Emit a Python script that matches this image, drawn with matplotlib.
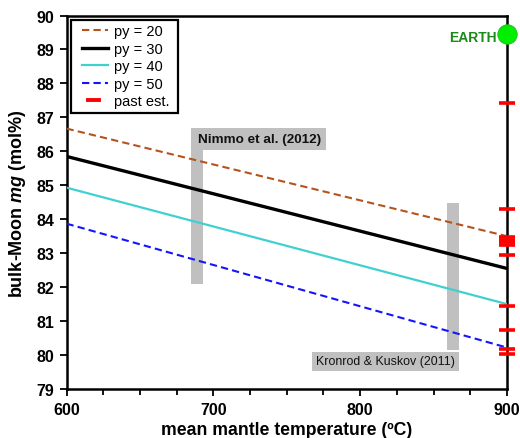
import matplotlib
matplotlib.use("Agg")
import matplotlib.pyplot as plt
from matplotlib.patches import Rectangle
from matplotlib.lines import Line2D
from matplotlib.legend_handler import HandlerLine2D
from matplotlib.ticker import MultipleLocator

plt.rcParams['font.family'] = ['Liberation Sans', 'DejaVu Sans']
plt.rcParams['mathtext.fontset'] = 'custom'
plt.rcParams['mathtext.rm'] = 'Liberation Sans:bold'
plt.rcParams['mathtext.bf'] = 'Liberation Sans:bold'
plt.rcParams['mathtext.it'] = 'Liberation Sans:bold:italic'
plt.rcParams['mathtext.bfit'] = 'Liberation Sans:bold:italic'

# ---- data ----
temperature = [600, 900]
py20 = [86.67, 83.50]
py30 = [85.85, 82.55]
py40 = [84.93, 81.50]
py50 = [83.87, 80.22]
series_labels = ['py = 20', 'py = 30', 'py = 40', 'py = 50']

past_est_x = 900
past_est = [87.42, 84.31, 83.47, 83.40, 83.32, 83.24, 82.96, 81.44, 80.75, 80.17, 80.04]

earth_x = 900
earth_mg = 89.46

nimmo_T = [685, 693]
nimmo_mg = [82.1, 86.68]
kronrod_T = [859, 867]
kronrod_mg = [80.16, 84.49]

xticks = [600, 700, 800, 900]
yticks = list(range(79, 91))


class PartLineHandler(HandlerLine2D):
    def __init__(self, f0, f1, **kw):
        super().__init__(**kw)
        self.f0, self.f1 = f0, f1

    def create_artists(self, legend, orig_handle, xdescent, ydescent,
                       width, height, fontsize, trans):
        y = height / 2.0 - ydescent
        x0 = -xdescent + width * self.f0
        x1 = -xdescent + width * self.f1
        line = Line2D([x0, x1], [y, y])
        line.update_from(orig_handle)
        line.set_marker('None')
        line.set_transform(trans)
        return [line]


# ---- figure ----
fig = plt.figure(figsize=(5.2, 4.39), dpi=100)
ax = fig.add_axes([0.128, 0.1116, 0.847, 0.8508])

gray = '#c0c0c0'
ax.add_patch(Rectangle((nimmo_T[0], nimmo_mg[0]), nimmo_T[1] - nimmo_T[0],
                       nimmo_mg[1] - nimmo_mg[0], fc=gray, ec='none', zorder=1))
ax.add_patch(Rectangle((kronrod_T[0], kronrod_mg[0]), kronrod_T[1] - kronrod_T[0],
                       kronrod_mg[1] - kronrod_mg[0], fc=gray, ec='none', zorder=1))

fs_n = 9.7
pad_n = 0.38
ax.annotate('Nimmo et al. (2012)', xy=(nimmo_T[0], nimmo_mg[1]),
            xytext=(pad_n * fs_n + 1.2, -pad_n * fs_n), textcoords='offset points',
            fontsize=fs_n, fontweight='bold', ha='left', va='top', color='#111111',
            zorder=2, bbox=dict(boxstyle=f'square,pad={pad_n}', fc=gray, ec='none'))
fs_k = 8.9
pad_k = 0.3
ax.annotate('Kronrod & Kuskov (2011)', xy=(kronrod_T[1], kronrod_mg[0]),
            xytext=(-pad_k * fs_k, -pad_k * fs_k - 1.5), textcoords='offset points',
            fontsize=fs_k, ha='right', va='top', color='#111111',
            zorder=2, bbox=dict(boxstyle=f'square,pad={pad_k}', fc=gray, ec='none'))

l20, = ax.plot(temperature, py20, color='#b5531f', lw=1.5, ls=(0, (3.5, 2)), zorder=3)
l30, = ax.plot(temperature, py30, color='black', lw=2.4, zorder=3)
l40, = ax.plot(temperature, py40, color='#40d0d0', lw=1.6, zorder=3)
l50, = ax.plot(temperature, py50, color='#1414ff', lw=1.5, ls=(0, (3.5, 2)), zorder=3)

ax.plot([past_est_x] * len(past_est), past_est, ls='none', marker='_',
        markersize=12, markeredgewidth=2.6, color='#ff0000',
        zorder=4, clip_on=False)

ax.plot([earth_x], [earth_mg], marker='o', markersize=14, color='#00ee00',
        markeredgecolor='#22bb22', markeredgewidth=0.6, ls='none', zorder=5, clip_on=False)
ax.text(893, earth_mg - 0.1, 'EARTH', color='#1a8a1a', fontsize=10,
        fontweight='bold', ha='right', va='center', zorder=5)

ax.set_xlim(600, 900)
ax.set_ylim(79, 90)
ax.set_xticks(xticks)
ax.set_yticks(yticks)
ax.xaxis.set_minor_locator(MultipleLocator(25))
ax.tick_params(axis='both', which='both', direction='out', width=1.3, colors='black')
ax.tick_params(axis='both', which='major', length=5, labelsize=11.5, pad=4)
ax.tick_params(axis='x', which='minor', length=4)
for lab in ax.get_xticklabels() + ax.get_yticklabels():
    lab.set_fontweight('bold')

for side in ['left', 'bottom', 'right', 'top']:
    ax.spines[side].set_linewidth(1.8)
    ax.spines[side].set_color('black')

ax.set_xlabel('mean mantle temperature (ºC)', fontsize=12.7, fontweight='bold', labelpad=3)
ax.set_ylabel(r'bulk-Moon $\mathbfit{mg}$ (mol%)', fontsize=13, fontweight='bold', labelpad=6)

past_proxy = Line2D([], [], color='#ff0000', lw=2.8)
handles = [l20, l30, l40, l50, past_proxy]
labels = [s + ' ' for s in series_labels + ['past est.']]
hmap = {h: PartLineHandler(0.19, 0.9) for h in [l20, l30, l40, l50]}
hmap[past_proxy] = PartLineHandler(0.36, 0.66)
leg = ax.legend(handles, labels, loc='upper left', fontsize=10.5, frameon=True,
                fancybox=False, borderaxespad=0.3, handlelength=2.5,
                handletextpad=0.17, labelspacing=0.24, borderpad=0.3,
                handler_map=hmap)
leg.get_frame().set_edgecolor('black')
leg.get_frame().set_linewidth(1.6)
leg.get_frame().set_alpha(1)

fig.savefig('out.png', dpi=100)
